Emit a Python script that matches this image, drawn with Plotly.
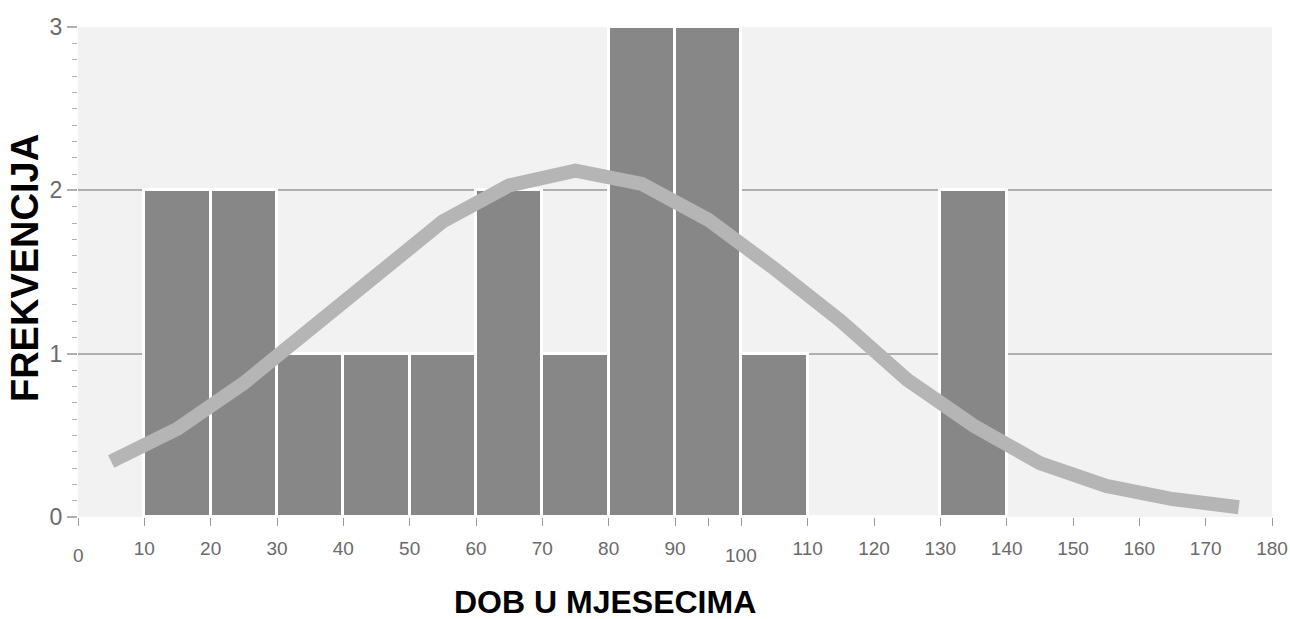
import plotly.graph_objects as go

bin_centers = [15, 25, 35, 45, 55, 65, 75, 85, 95, 105, 115, 125, 135]
frequencies = [2, 2, 1, 1, 1, 2, 1, 3, 3, 1, 0, 0, 2]

curve_x = [5, 15, 25, 35, 45, 55, 65, 75, 85, 95, 105, 115, 125, 135, 145, 155, 165, 175]
curve_y = [0.34, 0.54, 0.82, 1.15, 1.5, 1.81, 2.03, 2.12, 2.04, 1.82, 1.52, 1.2, 0.84, 0.56, 0.33, 0.19, 0.11, 0.06]

x_tickvals = [0, 10, 20, 30, 40, 50, 60, 70, 80, 90, 95, 100, 110, 120, 130, 140, 150, 160, 170, 180]
x_ticktext = ["", "10", "20", "30", "40", "50", "60", "70", "80", "90", "", "", "110", "120", "130", "140", "150", "160", "170", "180"]
low_labels = [0, 100]

x_title = "DOB U MJESECIMA"
y_title = "FREKVENCIJA"

tickfont = dict(family="Liberation Sans Narrow, Arial Narrow, Liberation Sans, Arial", size=19, color="#6a6a6a")

fig = go.Figure()
fig.add_trace(go.Bar(
    x=bin_centers, y=frequencies, width=10,
    marker=dict(color="#878787", line=dict(color="white", width=3)),
    hoverinfo="skip", showlegend=False,
))
fig.add_trace(go.Scatter(
    x=curve_x, y=curve_y, mode="lines",
    line=dict(color="#b5b5b5", width=14),
    hoverinfo="skip", showlegend=False,
))

for v in low_labels:
    fig.add_annotation(x=v, y=0, xref="x", yref="y", text=str(v), showarrow=False,
                       yshift=-38, font=tickfont)

fig.add_annotation(
    x=0.4414, y=-0.1735, xref="paper", yref="paper",
    xanchor="center", yanchor="middle", showarrow=False,
    text="<b>" + x_title + "</b>",
    font=dict(family="Liberation Sans Narrow, Arial Narrow, Liberation Sans, Arial", size=32, color="black"),
)
fig.add_annotation(
    x=-0.0444, y=0.508, xref="paper", yref="paper",
    xanchor="center", yanchor="middle", showarrow=False, textangle=-90,
    text="<b>" + y_title + "</b>",
    font=dict(family="Liberation Sans, Arial", size=38, color="black"),
)

fig.update_layout(
    width=1290, height=619,
    margin=dict(l=78, r=18, t=27, b=102),
    paper_bgcolor="white", plot_bgcolor="#f2f2f2",
    bargap=0,
    xaxis=dict(
        range=[0, 180], tickvals=x_tickvals, ticktext=x_ticktext,
        automargin=False,
        showgrid=False, zeroline=False, showline=False,
        ticks="outside", ticklen=8, tickcolor="#9a9a9a", tickwidth=1,
        ticklabelstandoff=6,
        tickfont=tickfont,
    ),
    yaxis=dict(
        range=[0, 3], tickvals=[0, 1, 2, 3],
        automargin=False,
        showgrid=True, gridcolor="#b0b0b0", gridwidth=2,
        zeroline=False, showline=False,
        ticks="outside", ticklen=10, tickcolor="#b0b0b0", tickwidth=2,
        minor=dict(dtick=0.1, ticks="outside", ticklen=5, tickcolor="#b0b0b0", tickwidth=1, showgrid=False),
        tickfont=dict(family="Liberation Sans Narrow, Arial Narrow, Liberation Sans, Arial", size=23, color="#6a6a6a"),
    ),
)

fig.write_html(
    "out.html",
    config={"displayModeBar": False},
    post_script="document.body.style.margin='0';document.body.style.overflow='hidden';",
)
